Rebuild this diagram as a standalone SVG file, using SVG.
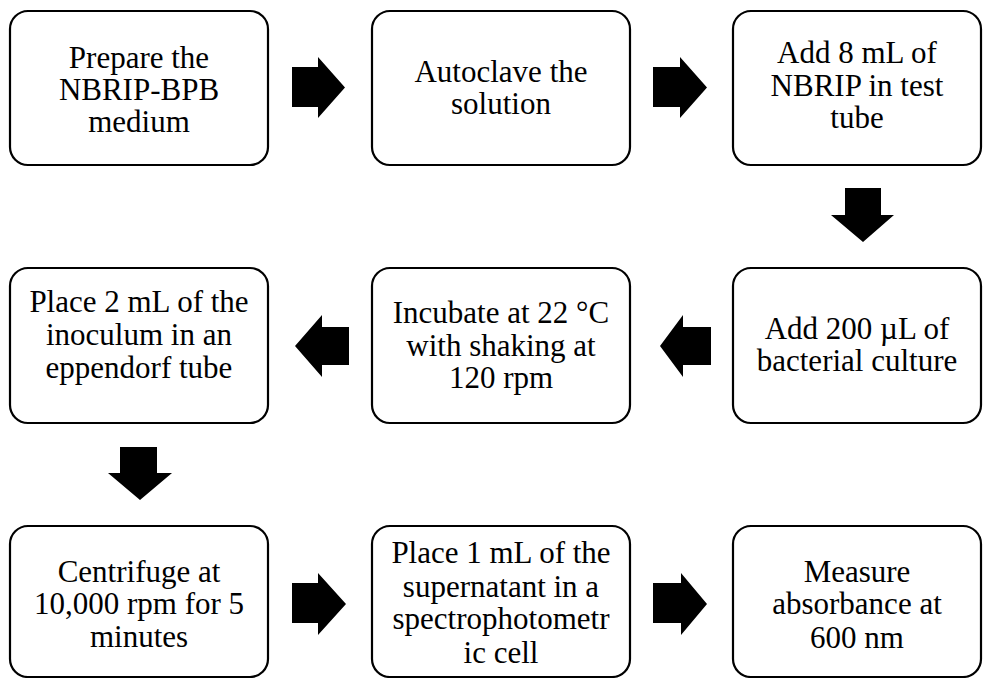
<svg xmlns="http://www.w3.org/2000/svg" width="983" height="678" viewBox="0 0 983 678">
<style>
.box{fill:#fff;stroke:#000;stroke-width:2.2}
.t{font-size:31px;fill:#000;text-anchor:middle}
.arr{fill:#000;stroke:none}
</style>
<rect width="983" height="678" fill="#fff"/>
<g id="n1"><rect class="box" x="10" y="11" width="258" height="154" rx="18"/>
<text class="t" font-family="'Liberation Serif', 'DejaVu Serif', serif"><tspan x="139" y="68">Prepare the</tspan><tspan x="139" y="100">NBRIP-BPB</tspan><tspan x="139" y="132">medium</tspan></text></g>
<g id="n2"><rect class="box" x="372" y="11" width="258" height="154" rx="18"/>
<text class="t" font-family="'Liberation Serif', 'DejaVu Serif', serif"><tspan x="501" y="82">Autoclave the</tspan><tspan x="501" y="114">solution</tspan></text></g>
<g id="n3"><rect class="box" x="733" y="11" width="248" height="154" rx="18"/>
<text class="t" font-family="'Liberation Serif', 'DejaVu Serif', serif"><tspan x="857" y="63">Add 8 mL of</tspan><tspan x="857" y="96">NBRIP in test</tspan><tspan x="857" y="128">tube</tspan></text></g>
<g id="n4"><rect class="box" x="733" y="268" width="248" height="155" rx="18"/>
<text class="t" font-family="'Liberation Serif', 'DejaVu Serif', serif"><tspan x="857" y="339">Add 200 µL of</tspan><tspan x="857" y="371">bacterial culture</tspan></text></g>
<g id="n5"><rect class="box" x="372" y="268" width="258" height="155" rx="18"/>
<text class="t" font-family="'Liberation Serif', 'DejaVu Serif', serif"><tspan x="501" y="323">Incubate at 22 °C</tspan><tspan x="501" y="356">with shaking at</tspan><tspan x="501" y="388">120 rpm</tspan></text></g>
<g id="n6"><rect class="box" x="10" y="268" width="258" height="155" rx="18"/>
<text class="t" font-family="'Liberation Serif', 'DejaVu Serif', serif"><tspan x="139" y="312">Place 2 mL of the</tspan><tspan x="139" y="345">inoculum in an</tspan><tspan x="139" y="378">eppendorf tube</tspan></text></g>
<g id="n7"><rect class="box" x="10" y="526" width="258" height="151" rx="18"/>
<text class="t" font-family="'Liberation Serif', 'DejaVu Serif', serif"><tspan x="139" y="582">Centrifuge at</tspan><tspan x="139" y="614">10,000 rpm for 5</tspan><tspan x="139" y="647">minutes</tspan></text></g>
<g id="n8"><rect class="box" x="372" y="526" width="258" height="151" rx="18"/>
<text class="t" font-family="'Liberation Serif', 'DejaVu Serif', serif"><tspan x="501" y="563">Place 1 mL of the</tspan><tspan x="501" y="597">supernatant in a</tspan><tspan x="501" y="629">spectrophotometr</tspan><tspan x="501" y="663">ic cell</tspan></text></g>
<g id="n9"><rect class="box" x="733" y="526" width="248" height="151" rx="18"/>
<text class="t" font-family="'Liberation Serif', 'DejaVu Serif', serif"><tspan x="857" y="582">Measure</tspan><tspan x="857" y="614">absorbance at</tspan><tspan x="857" y="648">600 nm</tspan></text></g>
<g id="connectors">
<polygon class="arr" points="292,67 318,67 318,57 345,87.5 318,118 318,107 292,107"/>
<polygon class="arr" points="653,67 680,67 680,57 707,87.5 680,118 680,107 653,107"/>
<polygon class="arr" points="845,188 881,188 881,215 894,215 863,242 831,215 845,215"/>
<polygon class="arr" points="711,327 683,327 683,315 660,346 683,377 683,365 711,365"/>
<polygon class="arr" points="349,327 322,327 322,315 295,346 322,377 322,365 349,365"/>
<polygon class="arr" points="120,447 157,447 157,473 172,473 140,500 108,473 120,473"/>
<polygon class="arr" points="292,583 318,583 318,573 346,604 318,635 318,623 292,623"/>
<polygon class="arr" points="653,583 681,583 681,573 707,604 681,635 681,623 653,623"/>
</g>
</svg>
